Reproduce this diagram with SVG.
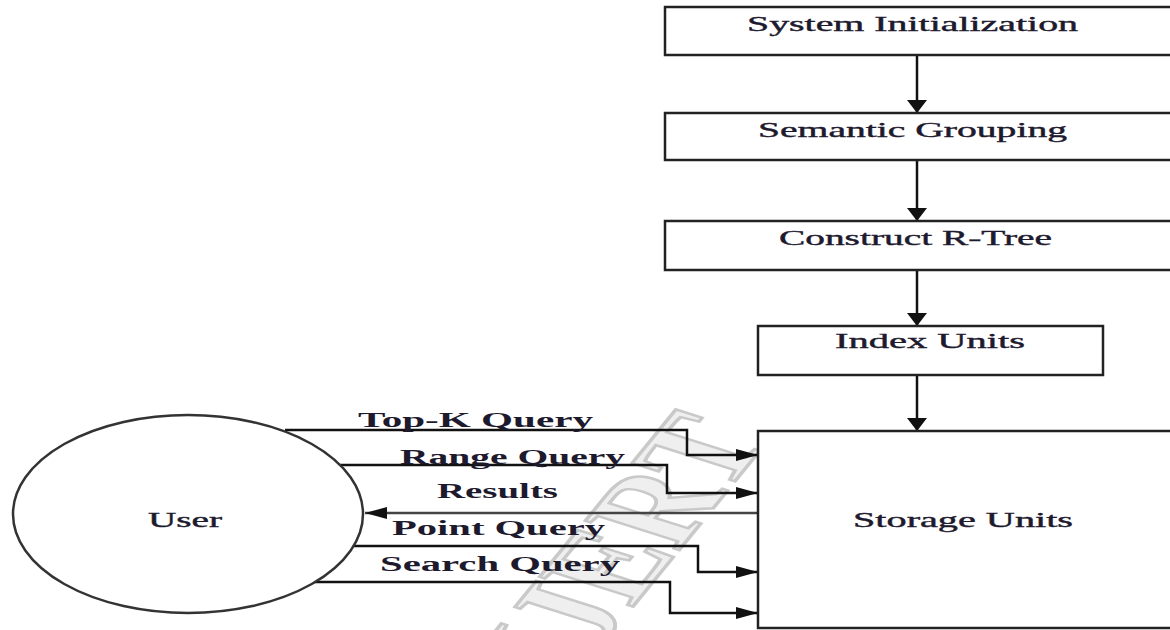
<svg xmlns="http://www.w3.org/2000/svg" width="1170" height="630" viewBox="0 0 1170 630">
  <defs>
    <!-- horizontal arrowheads are long and narrow, vertical ones short and wide -->
    <marker id="arrow-h" markerUnits="userSpaceOnUse" markerWidth="22" markerHeight="12" refX="22" refY="6" orient="auto">
      <path d="M0,0 L22,6 L0,12 z" fill="#111"/>
    </marker>
    <marker id="arrow-v" markerUnits="userSpaceOnUse" markerWidth="13" markerHeight="20" refX="13" refY="10" orient="auto">
      <path d="M0,0 L13,10 L0,20 z" fill="#111"/>
    </marker>
    <style>
      .box { fill: #fff; stroke: #222; stroke-width: 2.5; }
      .user { fill: #fff; stroke: #333; stroke-width: 2.5; }
      .label { font-family: "Liberation Serif", "Times New Roman", serif; fill: #1e1a2e; }
      .node-text { font-size: 21px; stroke: #1e1a2e; stroke-width: 0.4; }
      .edge-text { font-size: 20px; font-weight: bold; }
      .edge { fill: none; stroke: #111; stroke-width: 2.5; }
      .arrow-h { marker-end: url(#arrow-h); }
      .arrow-v { marker-end: url(#arrow-v); }
      .mark { font-family: "Liberation Serif", "Times New Roman", serif; font-size: 100px; font-weight: bold; fill: #efefef; stroke: #c9c9c9; stroke-width: 2.5; }
    </style>
  </defs>

  <rect width="1170" height="630" fill="#fff"/>

  <!-- background watermark, sheared by the wide page aspect -->
  <text class="mark" transform="translate(622,545) scale(1.6,1) rotate(-63)" text-anchor="middle" dy="34" textLength="275" lengthAdjust="spacingAndGlyphs">IJERT</text>

  <g id="connectors">
    <!-- processing pipeline -->
    <line class="edge arrow-v" x1="917" y1="55" x2="917" y2="113"/>
    <line class="edge arrow-v" x1="917" y1="160" x2="917" y2="221"/>
    <line class="edge arrow-v" x1="917" y1="270" x2="917" y2="326"/>
    <line class="edge arrow-v" x1="917" y1="375" x2="917" y2="431"/>
    <!-- user queries -->
    <polyline class="edge arrow-h" points="285,430 687,430 687,455 758,455"/>
    <polyline class="edge arrow-h" points="320,465 667,465 667,493 758,493"/>
    <line class="edge arrow-h" x1="758" y1="513" x2="365" y2="513" style="stroke:#444"/>
    <polyline class="edge arrow-h" points="345,546 698,546 698,572 758,572"/>
    <polyline class="edge arrow-h" points="300,582 670,582 670,613 758,613"/>
    <!-- edge labels -->
    <text class="label edge-text" x="358" y="427" textLength="235" lengthAdjust="spacingAndGlyphs">Top-K Query</text>
    <text class="label edge-text" x="400" y="464" textLength="225" lengthAdjust="spacingAndGlyphs">Range Query</text>
    <text class="label edge-text" x="437" y="498" textLength="121" lengthAdjust="spacingAndGlyphs">Results</text>
    <text class="label edge-text" x="392" y="535" textLength="213" lengthAdjust="spacingAndGlyphs">Point Query</text>
    <text class="label edge-text" x="380" y="571" textLength="240" lengthAdjust="spacingAndGlyphs">Search  Query</text>
  </g>

  <g id="system-initialization">
    <rect class="box" x="665" y="7" width="520" height="48"/>
    <text class="label node-text" x="747" y="31" textLength="331" lengthAdjust="spacingAndGlyphs">System Initialization</text>
  </g>

  <g id="semantic-grouping">
    <rect class="box" x="665" y="113" width="520" height="47"/>
    <text class="label node-text" x="758" y="137" textLength="309" lengthAdjust="spacingAndGlyphs">Semantic Grouping</text>
  </g>

  <g id="construct-r-tree">
    <rect class="box" x="665" y="221" width="520" height="49"/>
    <text class="label node-text" x="779" y="245" textLength="273" lengthAdjust="spacingAndGlyphs">Construct R-Tree</text>
  </g>

  <g id="index-units">
    <rect class="box" x="758" y="326" width="345" height="49"/>
    <text class="label node-text" x="835" y="348" textLength="190" lengthAdjust="spacingAndGlyphs">Index Units</text>
  </g>

  <g id="storage-units">
    <rect class="box" x="758" y="431" width="430" height="197"/>
    <text class="label node-text" x="853" y="527" textLength="220" lengthAdjust="spacingAndGlyphs">Storage Units</text>
  </g>

  <g id="user">
    <ellipse class="user" cx="188" cy="514" rx="175" ry="99"/>
    <text class="label node-text" x="148" y="527" textLength="74" lengthAdjust="spacingAndGlyphs">User</text>
  </g>
</svg>
